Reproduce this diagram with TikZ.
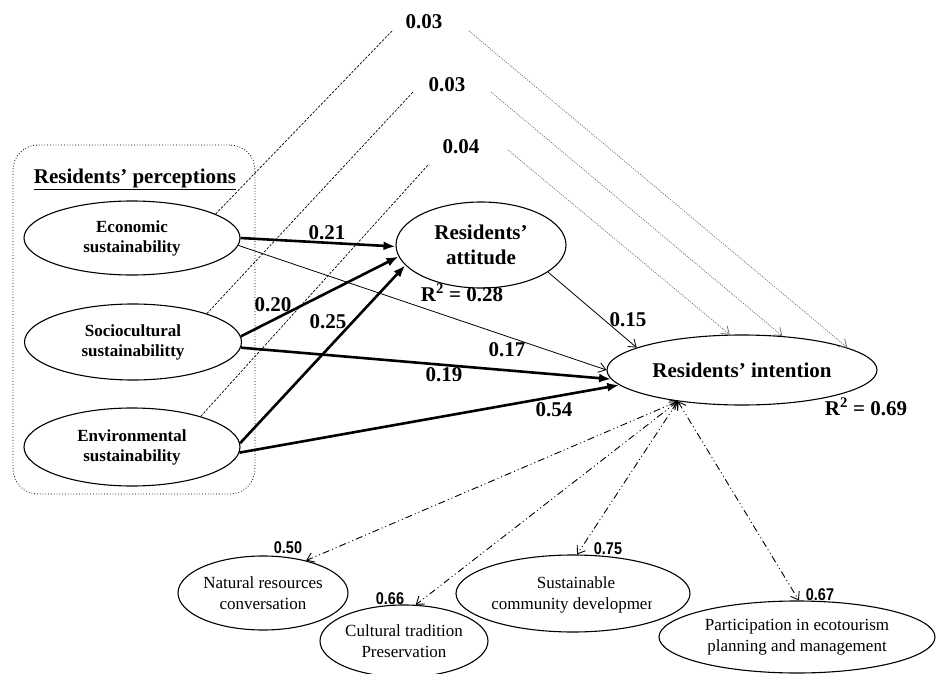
\documentclass[tikz,border=0pt]{standalone}
\usepackage{fontspec}
\setmainfont{Liberation Serif}
\newfontfamily\numsans{Liberation Sans}[FakeStretch=0.85]
\usetikzlibrary{arrows.meta,shapes.geometric}
\begin{document}
\begin{tikzpicture}[x=1pt,y=-1pt,
  ell/.style={draw, ellipse, line width=1.1pt, inner sep=0pt, align=center},
  latent/.style={ell, font=\fontsize{17}{20}\selectfont\bfseries},
  bigell/.style={ell, font=\fontsize{21}{25}\selectfont\bfseries},
  indic/.style={ell, font=\fontsize{17}{21}\selectfont},
  lbl/.style={font=\fontsize{21}{24}\selectfont\bfseries, inner sep=0pt},
  smalllbl/.style={font=\numsans\bfseries\fontsize{17}{17}\selectfont, inner sep=0pt},
  thickarr/.style={line width=2.6pt, -{Latex[length=12pt,width=9pt]}},
  thinarr/.style={line width=0.8pt, -{Straight Barb[length=7pt,width=10pt]}},
  dotarr/.style={draw=black!55, line width=0.8pt, dash pattern=on 1pt off 1.3pt, -{Straight Barb[length=7pt,width=10pt]}},
  dashline/.style={line width=0.7pt, dash pattern=on 2.5pt off 1.5pt},
  dotdash/.style={line width=0.9pt, dash pattern=on 7pt off 3pt on 1pt off 3pt on 1pt off 3pt,
    {Straight Barb[length=7pt,width=10pt]}-{Straight Barb[length=7pt,width=10pt]}}
]
\useasboundingbox (0,0) rectangle (943,674);

% perceptions box
\node[draw, dotted, line width=0.8pt, rounded corners=25pt, minimum width=242pt, minimum height=349pt, inner sep=0pt] (box) at (134,319.5) {};
\node[lbl] (title) at (135,179) {\underline{Residents’ perceptions}};

% latent constructs
\node[latent, minimum width=216pt, minimum height=74pt] (eco) at (132,238) {Economic\\sustainability};
\node[latent, minimum width=217pt, minimum height=76pt] (soc) at (133,342) {Sociocultural\\sustainabilitty};
\node[latent, minimum width=216pt, minimum height=78pt] (env) at (132,447) {Environmental\\sustainability};
\node[bigell, minimum width=170pt, minimum height=86pt] (att) at (481,245) {Residents’\\attitude};
\node[bigell, minimum width=270pt, minimum height=70pt] (int) at (742,370) {Residents’ intention};

% indicators
\node[indic, minimum width=170pt, minimum height=74pt] (nat) at (263,593) {Natural resources\\conversation};
\node[indic, minimum width=168pt, minimum height=72pt] (cul) at (404,641) {Cultural tradition\\Preservation};
\node[indic, minimum width=234pt, minimum height=77pt] (sus) at (573,593.5) {};
\begin{scope}
  \clip (450,540) rectangle (651,640);
  \node[font=\fontsize{17}{21}\selectfont, align=center, inner sep=0pt] (sustxt) at (576,595) {Sustainable\\community development};
\end{scope}
\node[indic, minimum width=276pt, minimum height=72pt] (par) at (797,637) {Participation in ecotourism\\planning and management};

% free ends of the indirect-effect lines
\coordinate (d1) at (392,31);
\coordinate (d2) at (413,92);
\coordinate (d3) at (429,164);
\coordinate (u1) at (469,31);
\coordinate (u2) at (491,92);
\coordinate (u3) at (508,150);

% indirect effects
\draw[dashline] (eco.16) -- (d1);
\draw[dashline] (soc.21) -- (d2);
\draw[dashline] (env.24) -- (d3);
\draw[dotarr] (u1) -- (int.12);
\draw[dotarr] (u2) -- (int.40);
\draw[dotarr] (u3) -- (int.109);
\node[lbl] (i1) at (424,22) {0.03};
\node[lbl] (i2) at (447,85) {0.03};
\node[lbl] (i3) at (461,147) {0.04};

% direct paths
\draw[thickarr] (eco.east) -- (att.181);
\draw[thickarr] (soc.3) -- (att.188);
\draw[thickarr] (env.2) -- (att.195);
\draw[thickarr] (soc.-3) -- (int.184);
\draw[thickarr] (env.-3) -- (int.187);
\draw[thinarr] (eco.-4) -- (int.180);
\draw[thinarr] (att.-22) -- (int.168);

\node[lbl] (l21) at (327,233) {0.21};
\node[lbl] (l20) at (273,305) {0.20};
\node[lbl] (l25) at (328,322) {0.25};
\node[lbl] (l17) at (507,350) {0.17};
\node[lbl] (l19) at (444,375) {0.19};
\node[lbl] (l54) at (554,410) {0.54};
\node[lbl] (l15) at (628,320) {0.15};
\node[lbl] (r28) at (462,293) {R\textsuperscript{2} = 0.28};
\node[lbl] (r69) at (866,407) {R\textsuperscript{2} = 0.69};

% indicator loadings
\draw[dotdash] (int.206) -- (nat.37);
\draw[dotdash] (int.206) -- (cul.72);
\draw[dotdash] (int.206) -- (sus.84);
\draw[dotdash] (int.206) -- (par.87);
\node[smalllbl] (k50) at (288,548) {0.50};
\node[smalllbl] (k66) at (390,599) {0.66};
\node[smalllbl] (k75) at (608,549) {0.75};
\node[smalllbl] (k67) at (820,595) {0.67};
\end{tikzpicture}
\end{document}
